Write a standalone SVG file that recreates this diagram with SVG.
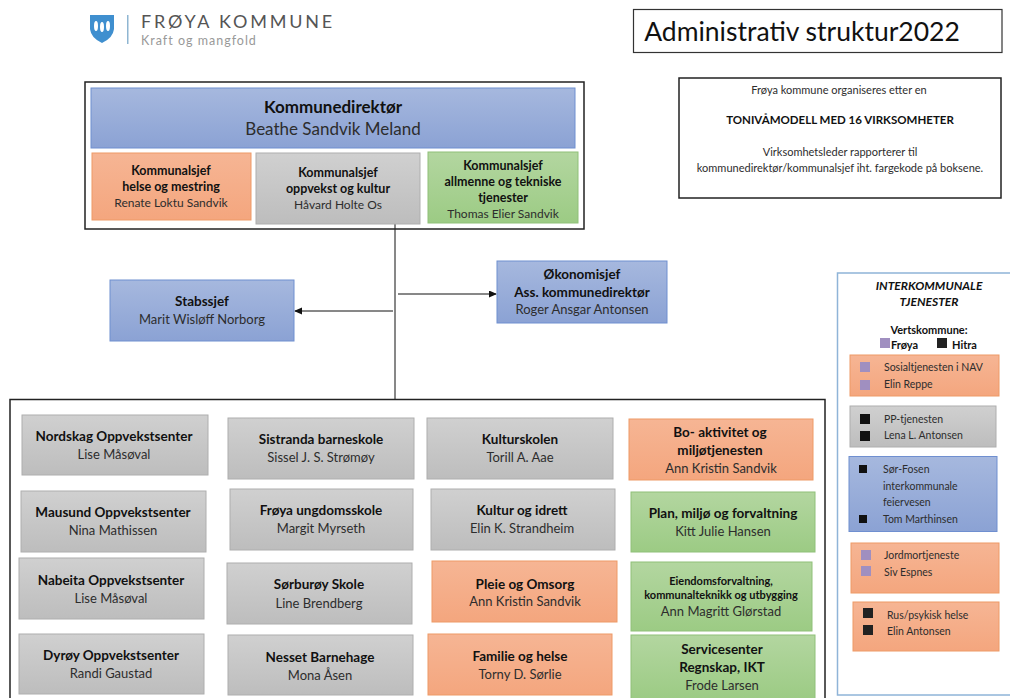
<svg xmlns="http://www.w3.org/2000/svg" width="1010" height="698" viewBox="0 0 1010 698">
<defs>
<linearGradient id="gb" x1="0" y1="0" x2="0" y2="1"><stop offset="0" stop-color="#a6b8de"/><stop offset="1" stop-color="#8ba2d4"/></linearGradient>
<linearGradient id="go" x1="0" y1="0" x2="0" y2="1"><stop offset="0" stop-color="#f6b594"/><stop offset="1" stop-color="#f4a67e"/></linearGradient>
<linearGradient id="gg" x1="0" y1="0" x2="0" y2="1"><stop offset="0" stop-color="#d0d0d0"/><stop offset="1" stop-color="#bdbdbd"/></linearGradient>
<linearGradient id="gn" x1="0" y1="0" x2="0" y2="1"><stop offset="0" stop-color="#b3d6a0"/><stop offset="1" stop-color="#9ccb84"/></linearGradient>
<marker id="ah" markerUnits="userSpaceOnUse" markerWidth="8" markerHeight="8" refX="7" refY="3.500" orient="auto"><path d="M0 0L8 3.500L0 7z" fill="#111"/></marker>
</defs>
<style>
text{font-family:Lato,"Noto Sans",sans-serif;fill:#2d2d2d;text-anchor:middle;font-size:13px}
.b{font-weight:700;fill:#111;font-size:13.500px}
.bl{fill:url(#gb);stroke:#6f8fd0}.or{fill:url(#go);stroke:#ee9a66}.gr{fill:url(#gg);stroke:#aeaeae}.ge{fill:url(#gn);stroke:#8fc078}
.fr{fill:none;stroke:#222;stroke-width:1.5}
.l{text-anchor:start;font-size:10.500px}
.s{font-size:12px}
.b.s{font-size:12.500px}
.pu{fill:#a08fc0}.bk{fill:#111}
</style>
<rect width="1010" height="698" fill="#fff"/>
<g id="logo">
<path d="M90 15H114V29Q113 38 102 43Q91 38 90 29Z" fill="#3f8fcf"/>
<ellipse cx="96" cy="26" rx="2" ry="5" fill="#fff"/><ellipse cx="102" cy="27" rx="2" ry="5" fill="#fff"/><ellipse cx="108" cy="26" rx="2" ry="5" fill="#fff"/>
<rect x="127" y="15" width="1.500" height="29" fill="#8fb6d2"/>
<text x="141" y="28" style="text-anchor:start;font-size:18px;letter-spacing:2.800px;fill:#555">FRØYA KOMMUNE</text>
<text x="141" y="45" style="text-anchor:start;font-size:12.500px;letter-spacing:1px;fill:#999">Kraft og mangfold</text>
</g>
<g id="title"><rect x="633.500" y="9.500" width="368.500" height="43" fill="#fff" stroke="#333" stroke-width="1.200"/><text x="802" y="41" style="font-size:26.500px;fill:#111">Administrativ struktur2022</text></g>
<g id="info"><rect x="679" y="78" width="322" height="120" fill="#fff" stroke="#222" stroke-width="1.500"/>
<text x="839" y="94" style="font-size:11px">Frøya kommune organiseres etter en</text>
<text x="840" y="124" class="b" style="font-size:11.500px">TONIVÅMODELL MED 16 VIRKSOMHETER</text>
<text x="840" y="156" style="font-size:11px">Virksomhetsleder rapporterer til</text>
<text x="840" y="172" style="font-size:11px">kommunedirektør/kommunalsjef iht. fargekode på boksene.</text></g>
<g id="connectors" fill="none" stroke="#111" stroke-width="1">
<path d="M395 219V399"/><path d="M393 311H295" marker-end="url(#ah)"/><path d="M398 294H496" marker-end="url(#ah)"/>
</g>
<rect class="fr" x="85" y="82" width="499" height="147"/>
<rect class="fr" x="10" y="399.500" width="815" height="310"/>
<g id="dir"><rect class="bl" x="91" y="88" width="484" height="60"/><text class="b" x="333" y="113" style="font-size:17px">Kommunedirektør</text><text x="333" y="135" style="font-size:17px">Beathe Sandvik Meland</text></g>
<g id="k1"><rect class="or" x="92" y="153" width="159" height="67"/><text class="b s" x="171" y="175">Kommunalsjef</text><text class="b s" x="171" y="191">helse og mestring</text><text class="s" x="171" y="207">Renate Loktu Sandvik</text></g>
<g id="k2"><rect class="gr" x="256" y="153" width="164" height="71"/><text class="b s" x="338" y="177">Kommunalsjef</text><text class="b s" x="338" y="193">oppvekst og kultur</text><text class="s" x="338" y="209">Håvard Holte Os</text></g>
<g id="k3"><rect class="ge" x="428" y="152" width="150" height="71"/><text class="b s" x="503" y="170">Kommunalsjef</text><text class="b s" x="503" y="186">allmenne og tekniske</text><text class="b s" x="503" y="202">tjenester</text><text class="s" x="503" y="218">Thomas Elier Sandvik</text></g>
<g id="stab"><rect class="bl" x="110" y="280" width="184" height="61"/><text class="b" x="202" y="306">Stabssjef</text><text x="202" y="324">Marit Wisløff Norborg</text></g>
<g id="oko"><rect class="bl" x="497" y="261" width="170" height="62"/><text class="b" x="582" y="279">Økonomisjef</text><text class="b" x="582" y="297">Ass. kommunedirektør</text><text x="582" y="314">Roger Ansgar Antonsen</text></g>
<g id="n1"><rect class="gr" x="22" y="415" width="186" height="60"/><text class="b" x="114" y="441">Nordskag Oppvekstsenter</text><text x="114" y="459">Lise Måsøval</text></g>
<g id="n2"><rect class="gr" x="21" y="491" width="185" height="61"/><text class="b" x="113" y="517">Mausund Oppvekstsenter</text><text x="113" y="535">Nina Mathissen</text></g>
<g id="n3"><rect class="gr" x="19" y="558" width="185" height="61"/><text class="b" x="111" y="585">Nabeita Oppvekstsenter</text><text x="111" y="603">Lise Måsøval</text></g>
<g id="n4"><rect class="gr" x="19" y="634" width="185" height="60"/><text class="b" x="111" y="660">Dyrøy Oppvekstsenter</text><text x="111" y="678">Randi Gaustad</text></g>
<g id="n5"><rect class="gr" x="228" y="418" width="186" height="61"/><text class="b" x="321" y="444">Sistranda barneskole</text><text x="321" y="462">Sissel J. S. Strømøy</text></g>
<g id="n6"><rect class="gr" x="230" y="489" width="183" height="61"/><text class="b" x="321" y="515">Frøya ungdomsskole</text><text x="321" y="533">Margit Myrseth</text></g>
<g id="n7"><rect class="gr" x="227" y="563" width="185" height="61"/><text class="b" x="319" y="589">Sørburøy Skole</text><text x="319" y="608">Line Brendberg</text></g>
<g id="n8"><rect class="gr" x="228" y="635" width="185" height="60"/><text class="b" x="320" y="662">Nesset Barnehage</text><text x="320" y="680">Mona Åsen</text></g>
<g id="n9"><rect class="gr" x="427" y="418" width="186" height="61"/><text class="b" x="520" y="444">Kulturskolen</text><text x="520" y="462">Torill A. Aae</text></g>
<g id="n10"><rect class="gr" x="431" y="489" width="184" height="61"/><text class="b" x="522" y="515">Kultur og idrett</text><text x="522" y="533">Elin K. Strandheim</text></g>
<g id="n11"><rect class="or" x="432" y="561" width="185" height="61"/><text class="b" x="525" y="589">Pleie og Omsorg</text><text x="525" y="606">Ann Kristin Sandvik</text></g>
<g id="n12"><rect class="or" x="428" y="634" width="184" height="61"/><text class="b" x="520" y="661">Familie og helse</text><text x="520" y="679">Torny D. Sørlie</text></g>
<g id="n13"><rect class="or" x="629" y="419" width="184" height="61"/><text class="b" x="720" y="437">Bo- aktivitet og</text><text class="b" x="720" y="455">miljøtjenesten</text><text x="721" y="473">Ann Kristin Sandvik</text></g>
<g id="n14"><rect class="ge" x="631" y="492" width="184" height="60"/><text class="b" x="723" y="518">Plan, miljø og forvaltning</text><text x="723" y="536">Kitt Julie Hansen</text></g>
<g id="n15"><rect class="ge" x="631" y="562" width="181" height="69"/><text class="b" x="721" y="585" style="font-size:11px">Eiendomsforvaltning,</text><text class="b" x="721" y="599" style="font-size:11px">kommunalteknikk og utbygging</text><text x="721" y="616">Ann Magritt Glørstad</text></g>
<g id="n16"><rect class="ge" x="631" y="635" width="184" height="64"/><text class="b" x="722" y="654">Servicesenter</text><text class="b" x="722" y="672">Regnskap, IKT</text><text x="722" y="690">Frode Larsen</text></g>
<g id="inter"><rect x="837.500" y="273" width="180" height="422" fill="#fff" stroke="#8fb4d8" stroke-width="1.500"/>
<text x="929" y="290" class="b" style="font-size:12px;font-style:italic">INTERKOMMUNALE</text>
<text x="929" y="306" class="b" style="font-size:12px;font-style:italic">TJENESTER</text>
<text x="929" y="334" class="b" style="font-size:11px">Vertskommune:</text>
<rect class="pu" x="880" y="338" width="10" height="10"/><text x="891" y="349" class="b" style="font-size:11px;text-anchor:start">Frøya</text>
<rect x="937" y="338" width="10" height="10" fill="#222"/><text x="952" y="349" class="b" style="font-size:11px;text-anchor:start">Hitra</text></g>
<g id="i1"><rect class="or" x="850" y="355" width="149" height="41"/><rect class="pu" x="860" y="362" width="10" height="10"/><rect class="pu" x="860" y="380" width="10" height="10"/><text class="l" x="884" y="371">Sosialtjenesten i NAV</text><text class="l" x="884" y="388">Elin Reppe</text></g>
<g id="i2"><rect class="gr" x="850" y="406" width="146" height="41"/><rect class="bk" x="860" y="414" width="10" height="10"/><rect class="bk" x="860" y="431" width="10" height="10"/><text class="l" x="884" y="423">PP-tjenesten</text><text class="l" x="884" y="439">Lena L. Antonsen</text></g>
<g id="i3"><rect class="bl" x="849" y="456.500" width="148" height="75"/><rect class="bk" x="859" y="465" width="8" height="8"/><rect class="bk" x="859" y="515" width="8" height="8"/><text class="l" x="883" y="473">Sør-Fosen</text><text class="l" x="883" y="490">interkommunale</text><text class="l" x="883" y="506">feiervesen</text><text class="l" x="883" y="523">Tom Marthinsen</text></g>
<g id="i4"><rect class="or" x="851" y="543" width="148" height="50"/><rect class="pu" x="861" y="550" width="10" height="10"/><rect class="pu" x="861" y="566" width="10" height="10"/><text class="l" x="884" y="559">Jordmortjeneste</text><text class="l" x="884" y="576">Siv Espnes</text></g>
<g id="i5"><rect class="or" x="853" y="602" width="146" height="49"/><rect x="863" y="608" width="10" height="10" fill="#222"/><rect x="863" y="625" width="10" height="10" fill="#222"/><text class="l" x="887" y="619">Rus/psykisk helse</text><text class="l" x="887" y="635">Elin Antonsen</text></g>
</svg>
